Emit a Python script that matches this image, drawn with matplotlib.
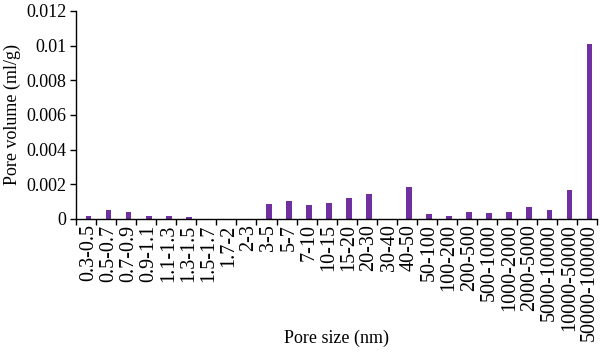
import numpy as np
import matplotlib.pyplot as plt

pore_sizes = ['0.3-0.5', '0.5-0.7', '0.7-0.9', '0.9-1.1', '1.1-1.3', '1.3-1.5',
              '1.5-1.7', '1.7-2', '2-3', '3-5', '5-7', '7-10', '10-15', '15-20',
              '20-30', '30-40', '40-50', '50-100', '100-200', '200-500',
              '500-1000', '1000-2000', '2000-5000', '5000-10000', '10000-50000',
              '50000-100000']
pore_volume = [0.00017, 0.0005, 0.0004, 0.00017, 0.00017, 0.0001,
               0.0, 0.0, 0.0, 0.00084, 0.00106, 0.00078, 0.0009, 0.00119,
               0.00142, 0.0, 0.00186, 0.00027, 0.00019, 0.0004,
               0.00035, 0.0004, 0.00067, 0.0005, 0.00167, 0.0101]
y_ticks = [0, 0.002, 0.004, 0.006, 0.008, 0.01, 0.012]
y_tick_labels = ['0', '0.002', '0.004', '0.006', '0.008', '0.01', '0.012']

plt.rcParams['font.family'] = ['Liberation Serif', 'DejaVu Serif']

fig = plt.figure(figsize=(6, 3.52), dpi=100)
ax = fig.add_axes([0.127, 0.378, 0.868, 0.591])

x = np.arange(len(pore_sizes))
ax.bar(x + 0.12, pore_volume, width=0.28, color='#7030A0')

ax.set_xlim(-0.5, len(pore_sizes) - 0.5)
ax.set_ylim(0, 0.012)
ax.set_yticks(y_ticks)
ax.set_yticklabels(y_tick_labels, fontsize=13)
ax.set_xticks(x + 0.12)
ax.set_xticklabels(pore_sizes, rotation=90, fontsize=14.5)
ax.tick_params(axis='x', length=0, pad=4)
ax.set_xticks(np.arange(len(pore_sizes) + 1) - 0.5, minor=True)
ax.tick_params(axis='x', which='minor', length=4, width=1)
ax.tick_params(axis='y', length=4, width=1, pad=3)

for side in ['top', 'right']:
    ax.spines[side].set_visible(False)
ax.spines['left'].set_linewidth(1)
ax.spines['bottom'].set_linewidth(1)

ax.set_ylabel('Pore volume (ml/g)', fontsize=13)
ax.set_xlabel('Pore size (nm)', fontsize=13)
ax.xaxis.set_label_coords(0.5, -0.53)

fig.savefig('out.png', dpi=100)
